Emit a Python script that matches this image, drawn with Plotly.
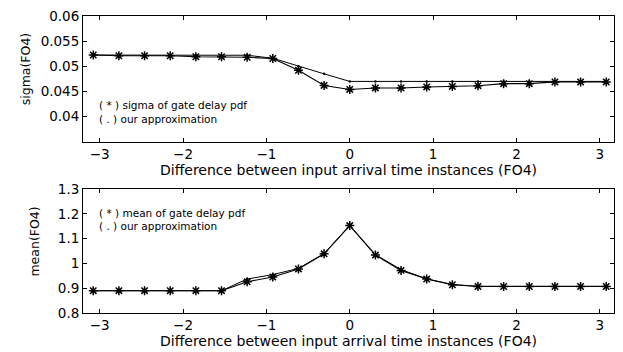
import plotly.graph_objects as go
from plotly.subplots import make_subplots

x = [k * 4 / 13 for k in range(-10, 11)]

sigma_pdf = [0.05225, 0.0521, 0.0521, 0.0521, 0.0519, 0.0519, 0.0518, 0.05155, 0.0492, 0.0462,
             0.0454, 0.0457, 0.0457, 0.0459, 0.0460, 0.04615, 0.04655, 0.04655, 0.0469, 0.0469, 0.0469]
sigma_approx = [0.05225, 0.0522, 0.0522, 0.0522, 0.0522, 0.0522, 0.0522, 0.0516, 0.0500, 0.0485,
                0.0470, 0.0470, 0.0470, 0.0470, 0.0470, 0.0470, 0.0470, 0.0470, 0.0470, 0.0470, 0.0470]

mean_pdf = [0.89, 0.89, 0.89, 0.89, 0.89, 0.89, 0.926, 0.945, 0.978, 1.039,
            1.153, 1.034, 0.972, 0.937, 0.914, 0.907, 0.907, 0.907, 0.907, 0.907, 0.907]
mean_approx = [0.89, 0.89, 0.89, 0.89, 0.89, 0.89, 0.937, 0.955, 0.980, 1.040,
               1.153, 1.036, 0.975, 0.938, 0.915, 0.908, 0.908, 0.908, 0.908, 0.908, 0.908]

xtitle = "Difference between input arrival time instances (FO4)"
font = "DejaVu Sans, Verdana, sans-serif"

fig = make_subplots(rows=2, cols=1, vertical_spacing=0.0)

def add(row, ypdf, yapp):
    fig.add_trace(go.Scatter(x=x, y=yapp, mode="lines+markers",
                             line=dict(color="black", width=1),
                             marker=dict(symbol="circle", size=2.5, color="black"),
                             showlegend=False), row=row, col=1)
    fig.add_trace(go.Scatter(x=x, y=ypdf, mode="lines+markers",
                             line=dict(color="black", width=1.1),
                             marker=dict(symbol="asterisk-open", size=7.5,
                                         line=dict(color="black", width=1.5)),
                             showlegend=False), row=row, col=1)

add(1, sigma_pdf, sigma_approx)
add(2, mean_pdf, mean_approx)

axcommon = dict(showline=True, linecolor="black", linewidth=1, mirror="ticks",
                ticks="inside", ticklen=4, tickcolor="black", showgrid=False,
                zeroline=False, tickfont=dict(size=13.5, color="black", family=font))

fig.update_xaxes(range=[-3.2, 3.17], tickvals=[-3, -2, -1, 0, 1, 2, 3],
                 title=dict(text=xtitle, font=dict(size=14, color="black", family=font), standoff=1),
                 **axcommon)
fig.update_yaxes(**axcommon)
fig.update_yaxes(range=[0.035, 0.06], tickvals=[0.04, 0.045, 0.05, 0.055, 0.06],
                 ticktext=["0.04", "0.045", "0.05", "0.055", "0.06"], row=1, col=1)
fig.update_yaxes(range=[0.8, 1.3], tickvals=[0.8, 0.9, 1.0, 1.1, 1.2, 1.3],
                 ticktext=["0.8", "0.9", "1", "1.1", "1.2", "1.3"], row=2, col=1)

fig.update_layout(
    width=623, height=352,
    margin=dict(l=83, r=8, t=10, b=35),
    paper_bgcolor="white", plot_bgcolor="white",
    yaxis=dict(domain=[0.5765, 1.0]),
    yaxis2=dict(domain=[0.0, 0.417]),
    font=dict(family=font, color="black"),
)

ytitle_font = dict(size=12.5, color="black", family=font)
fig.add_annotation(x=-0.109, y=0.821, xref="paper", yref="paper", text="sigma(FO4)",
                   textangle=-90, showarrow=False, xanchor="center", yanchor="middle", font=ytitle_font)
fig.add_annotation(x=-0.092, y=0.241, xref="paper", yref="paper", text="mean(FO4)",
                   textangle=-90, showarrow=False, xanchor="center", yanchor="middle", font=ytitle_font)

ann_font = dict(size=10.5, color="black", family=font)
fig.add_annotation(x=-3.03, y=0.0423, xref="x", yref="y", text="( * ) sigma of gate delay pdf",
                   showarrow=False, xanchor="left", yanchor="middle", font=ann_font)
fig.add_annotation(x=-3.03, y=0.0396, xref="x", yref="y", text="( . ) our approximation",
                   showarrow=False, xanchor="left", yanchor="middle", font=ann_font)
fig.add_annotation(x=-3.03, y=1.205, xref="x2", yref="y2", text="( * ) mean of gate delay pdf",
                   showarrow=False, xanchor="left", yanchor="middle", font=ann_font)
fig.add_annotation(x=-3.03, y=1.150, xref="x2", yref="y2", text="( . ) our approximation",
                   showarrow=False, xanchor="left", yanchor="middle", font=ann_font)

fig.write_html("out.html")
